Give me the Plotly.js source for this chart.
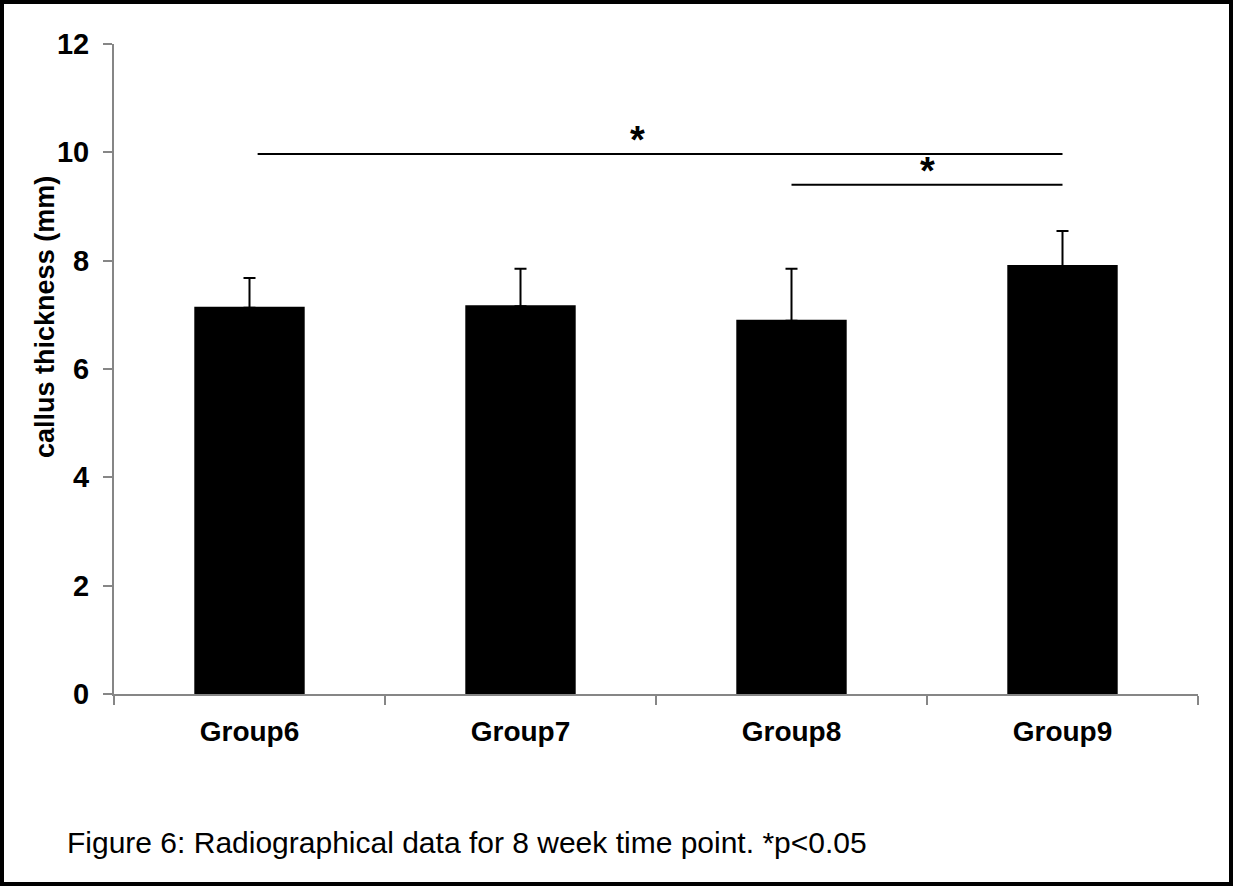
<!DOCTYPE html>
<html>
<head>
<meta charset="utf-8">
<script src="https://cdn.plot.ly/plotly-3.0.1.min.js"></script>
<style>
  html, body { margin: 0; padding: 0; background: #fff; }
  #wrap { position: relative; width: 1233px; height: 886px; }
  #plot { width: 1233px; height: 886px; }
  #frame { position: absolute; left: 0; top: 0; width: 1233px; height: 886px; box-sizing: border-box; border: 4px solid #000; pointer-events: none; }
</style>
</head>
<body>
<div id="wrap"><div id="plot"></div><div id="frame"></div></div>
<script>
// ---- data ----
const categories = ['Group6', 'Group7', 'Group8', 'Group9'];
const meanThickness = [7.13, 7.16, 6.89, 7.90];
const errorUpper = [0.55, 0.69, 0.96, 0.65];
const yTickValues = [0, 2, 4, 6, 8, 10, 12];
// significance brackets (x as category index)
const sigStartX = [0.03, 2.0];
const sigEndX = [3.0, 3.0];
const sigLevel = [9.97, 9.40];
const sigStarX = [1.43, 2.5];
const sigStarY = [10.22, 9.66];
const sigLabel = ['*', '*'];
const yTitle = 'callus thickness (mm)';
const caption = 'Figure 6: Radiographical data for 8 week time point. *p<0.05';

const FONT = '"Liberation Sans", Arial, Helvetica, sans-serif';

const trace = {
  type: 'bar',
  x: categories,
  y: meanThickness,
  width: 0.40,
  marker: { color: '#000000', line: { width: 2, color: '#000000' } },
  error_y: {
    type: 'data', symmetric: false,
    array: errorUpper,
    arrayminus: meanThickness.map(() => 0),
    color: '#000000', thickness: 2, width: 6
  },
  hoverinfo: 'skip'
};

const shapes = sigStartX.map((s, i) => ({
  type: 'line', xref: 'x', yref: 'y',
  x0: s, x1: sigEndX[i], y0: sigLevel[i], y1: sigLevel[i],
  line: { color: '#000000', width: 2 }
}));

const annotations = sigStarX.map((sx, i) => ({
  x: sx, y: sigStarY[i], xref: 'x', yref: 'y',
  text: sigLabel[i], showarrow: false,
  xanchor: 'center', yanchor: 'middle',
  font: { family: FONT, size: 38, color: '#000', weight: 'bold' }
}));

annotations.push({
  xref: 'paper', yref: 'paper', x: -0.0637, y: 0.58,
  text: yTitle, textangle: -90, showarrow: false,
  xanchor: 'center', yanchor: 'middle',
  font: { family: FONT, size: 27, color: '#000', weight: 'bold' }
});

annotations.push({
  xref: 'paper', yref: 'paper', x: -0.0452, y: -0.229,
  text: caption, showarrow: false,
  xanchor: 'left', yanchor: 'middle',
  font: { family: FONT, size: 30, color: '#000' }
});

const layout = {
  width: 1233, height: 886,
  margin: { l: 114, r: 35, t: 44, b: 192 },
  paper_bgcolor: '#ffffff', plot_bgcolor: '#ffffff',
  showlegend: false,
  xaxis: {
    type: 'category', range: [-0.5, 3.5],
    showline: true, linecolor: '#868686', linewidth: 2,
    ticks: 'outside', tickson: 'boundaries', ticklen: 9, tickwidth: 2, tickcolor: '#868686',
    showgrid: false, zeroline: false,
    tickfont: { family: FONT, size: 28, color: '#000', weight: 'bold' },
    ticklabelstandoff: 11
  },
  yaxis: {
    range: [0, 12], tickvals: yTickValues, ticktext: yTickValues.map(String),
    showline: true, linecolor: '#868686', linewidth: 2,
    ticks: 'outside', ticklen: 9, tickwidth: 2, tickcolor: '#868686',
    showgrid: false, zeroline: false,
    tickfont: { family: FONT, size: 29, color: '#000', weight: 'bold' },
    ticklabelstandoff: 8
  },
  shapes: shapes,
  annotations: annotations
};

Plotly.newPlot('plot', [trace], layout, { displayModeBar: false, staticPlot: true });
</script>
</body>
</html>
